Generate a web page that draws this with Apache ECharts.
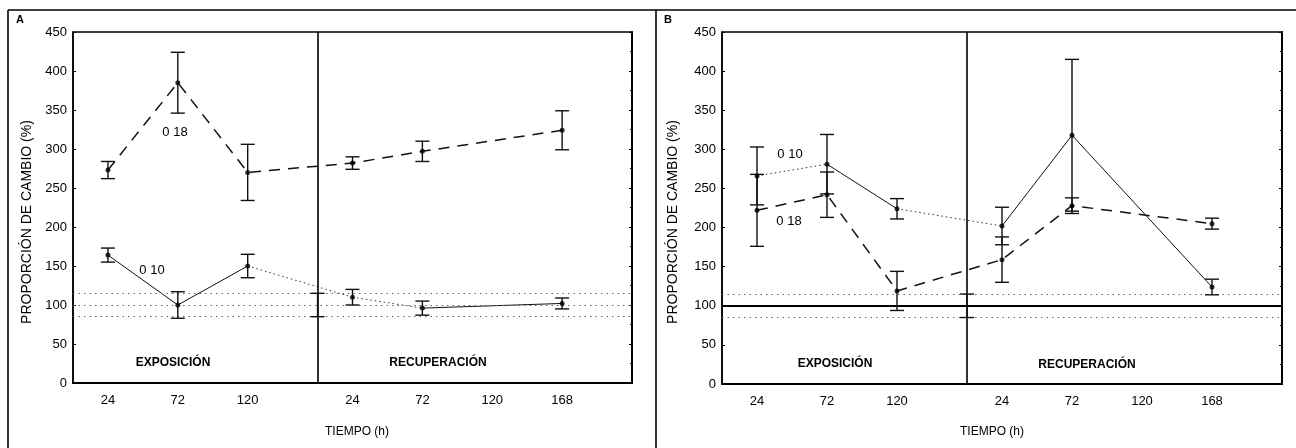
<!DOCTYPE html>
<html><head><meta charset="utf-8">
<script src="https://cdn.jsdelivr.net/npm/echarts@6/dist/echarts.min.js"></script>
<style>html,body{margin:0;padding:0;background:#fff}#c{width:1296px;height:448px}</style>
</head><body><div id="c"></div>
<script>
// ---- data ----
const xLabelPos = [1, 3, 5, 8, 10, 12, 14];           // slot positions of tick labels
const xLabels   = ['24', '72', '120', '24', '72', '120', '168'];
const dataPos   = [1, 3, 5, 8, 10, 14];               // exposure 24,72,120 | recovery 24,72,168
const dividerPos = 7;
const yTickLabels = [0, 50, 100, 150, 200, 250, 300, 350, 400, 450];

// Panel A
const a18    = [273, 385, 270, 282, 297, 324];
const a18err = [11, 39, 36, 8, 13, 25];
const a10    = [164, 100, 150, 110, 96, 102];
const a10err = [9, 17, 15, 10, 9, 7];
// Panel B
const b10    = [266, 281, 224, 202, 318, 124];
const b10err = [37, 38, 13, 24, 97, 10];
const b18    = [222, 242, 119, 159, 228, 205];
const b18err = [46, 29, 25, 29, 10, 7];
// control (100 % ± SE)
const ctrlMean = 100;
const ctrlErr = 15;

// line style of each segment of the 0.10 curve (as seen in the scan)
const segA10 = ['solid', 'solid', 'dotted', 'dotted', 'solid'];
const segB10 = ['dotted', 'solid', 'dotted', 'solid', 'solid'];

const FONT = '"Liberation Sans", Arial, sans-serif';

function pts(v) { return v.map((y, i) => [dataPos[i], y]); }
function errData(v, e) { return v.map((y, i) => [dataPos[i], y, e[i]]); }

function errSeries(gi, data) {
  return {
    type: 'custom', xAxisIndex: gi, yAxisIndex: gi * 2, z: 5, silent: true,
    data: data,
    renderItem(params, api) {
      const x = api.value(0), y = api.value(1), e = api.value(2);
      const t = api.coord([x, y + e]), b = api.coord([x, y - e]);
      const w = 7;
      const st = { stroke: '#111', lineWidth: 1.4 };
      return { type: 'group', children: [
        { type: 'line', shape: { x1: t[0], y1: t[1], x2: b[0], y2: b[1] }, style: st },
        { type: 'line', shape: { x1: t[0] - w, y1: t[1], x2: t[0] + w, y2: t[1] }, style: st },
        { type: 'line', shape: { x1: b[0] - w, y1: b[1], x2: b[0] + w, y2: b[1] }, style: st }
      ]};
    }
  };
}
function lineStyleOf(type) {
  if (type === 'dotted') return { color: '#333', width: 1, type: [1.5, 3] };
  if (type === 'dashed') return { color: '#111', width: 1.5, type: [11, 8] };
  return { color: '#111', width: 1 };
}
function segSeries(gi, v, segs) {
  return segs.map((s, i) => ({
    type: 'line', xAxisIndex: gi, yAxisIndex: gi * 2, symbol: 'none', silent: true, z: 3,
    data: [[dataPos[i], v[i]], [dataPos[i + 1], v[i + 1]]],
    lineStyle: lineStyleOf(s)
  }));
}
function dashedSeries(gi, v) {
  return { type: 'line', xAxisIndex: gi, yAxisIndex: gi * 2, symbol: 'none', silent: true, z: 3,
    data: pts(v), lineStyle: lineStyleOf('dashed') };
}
function dotSeries(gi, v) {
  return { type: 'scatter', xAxisIndex: gi, yAxisIndex: gi * 2, symbol: 'circle', symbolSize: 5, z: 6,
    silent: true, itemStyle: { color: '#000' }, data: pts(v) };
}
function refSeries(gi, solidCenter) {
  const dot = { color: '#666', width: 1, type: [1.5, 4] };
  return { type: 'line', xAxisIndex: gi, yAxisIndex: gi * 2, data: [], silent: true,
    markLine: { symbol: 'none', silent: true, label: { show: false }, animation: false,
      data: [
        { yAxis: ctrlMean + ctrlErr, lineStyle: dot },
        { yAxis: ctrlMean, lineStyle: solidCenter ? { color: '#000', width: 2, type: 'solid' } : dot },
        { yAxis: ctrlMean - ctrlErr, lineStyle: dot },
        { xAxis: dividerPos, lineStyle: { color: '#000', width: 1.6, type: 'solid' } }
      ] } };
}

const grids = [
  { left: 73, right: 664, top: 32, bottom: 65 },
  { left: 722, right: 14, top: 32, bottom: 64 }
];
const xAxes = grids.map((g, i) => ({
  type: 'value', gridIndex: i, min: 0, max: 16, interval: 1,
  axisLine: { lineStyle: { color: '#000', width: 2 } },
  axisTick: { show: false }, splitLine: { show: false },
  axisLabel: { color: '#000', fontFamily: FONT, fontSize: 13, margin: 11,
    formatter: v => { const k = xLabelPos.indexOf(v); return k >= 0 ? xLabels[k] : ''; } }
}));
const yAxes = [];
grids.forEach((g, i) => {
  yAxes.push({ type: 'value', gridIndex: i, min: 0, max: 450, interval: 50, position: 'left',
    axisLine: { show: true, lineStyle: { color: '#000', width: 1.5 } },
    axisTick: { show: true, inside: true, length: 3, lineStyle: { color: '#000' } },
    splitLine: { show: false },
    axisLabel: { color: '#000', fontFamily: FONT, fontSize: 13, margin: 6,
      formatter: v => yTickLabels.includes(v) ? String(v) : '' } });
  yAxes.push({ type: 'value', gridIndex: i, min: 0, max: 450, interval: 50, position: 'right',
    axisLine: { show: true, lineStyle: { color: '#000', width: 2 } },
    axisTick: { show: true, inside: true, length: 3, lineStyle: { color: '#000' } },
    minorTick: { show: true, splitNumber: 2, length: 2, lineStyle: { color: '#000' } },
    splitLine: { show: false }, axisLabel: { show: false } });
});

const series = [
  refSeries(0, false), refSeries(1, true),
  dashedSeries(0, a18), ...segSeries(0, a10, segA10),
  dashedSeries(1, b18), ...segSeries(1, b10, segB10),
  errSeries(0, errData(a18, a18err)), errSeries(0, errData(a10, a10err)),
  errSeries(0, [[dividerPos, ctrlMean, ctrlErr]]),
  errSeries(1, errData(b18, b18err)), errSeries(1, errData(b10, b10err)),
  errSeries(1, [[dividerPos, ctrlMean, ctrlErr]]),
  dotSeries(0, a18), dotSeries(0, a10), dotSeries(1, b18), dotSeries(1, b10)
];

function txt(x, y, s, opt) {
  return Object.assign({ type: 'text', x: x, y: y, silent: true,
    style: Object.assign({ text: s, fill: '#000', font: '13px ' + FONT, align: 'center', verticalAlign: 'middle' }, opt || {}) });
}
function rotTxt(x, y, s) {
  return { type: 'text', x: x, y: y, rotation: Math.PI / 2, silent: true,
    style: { text: s, fill: '#000', font: '14px ' + FONT, align: 'center', verticalAlign: 'middle' } };
}
const lineSt = { stroke: '#000', lineWidth: 1.6 };
const graphic = [
  { type: 'line', shape: { x1: 8, y1: 10, x2: 1296, y2: 10 }, style: lineSt, silent: true },
  { type: 'line', shape: { x1: 8, y1: 10, x2: 8, y2: 448 }, style: lineSt, silent: true },
  { type: 'line', shape: { x1: 656, y1: 10, x2: 656, y2: 448 }, style: lineSt, silent: true },
  txt(20, 20, 'A', { font: 'bold 11px ' + FONT }),
  txt(668, 20, 'B', { font: 'bold 11px ' + FONT }),
  rotTxt(27, 222, 'PROPORCIÓN DE CAMBIO (%)'),
  rotTxt(673, 222, 'PROPORCIÓN DE CAMBIO (%)'),
  txt(357, 432, 'TIEMPO (h)', { font: '12px ' + FONT }),
  txt(992, 432, 'TIEMPO (h)', { font: '12px ' + FONT }),
  txt(173, 363, 'EXPOSICIÓN', { font: 'bold 12px ' + FONT }),
  txt(438, 363, 'RECUPERACIÓN', { font: 'bold 12px ' + FONT }),
  txt(835, 364, 'EXPOSICIÓN', { font: 'bold 12px ' + FONT }),
  txt(1087, 365, 'RECUPERACIÓN', { font: 'bold 12px ' + FONT }),
  txt(175, 132, '0 18'),
  txt(152, 270, '0 10'),
  txt(790, 154, '0 10'),
  txt(789, 221, '0 18')
];

const chart = echarts.init(document.getElementById('c'), null, { renderer: 'canvas' });
chart.setOption({
  animation: false,
  backgroundColor: '#fff',
  grid: grids.map(g => Object.assign({ show: true, borderColor: '#000', borderWidth: 1.5, backgroundColor: 'transparent' }, g)),
  xAxis: xAxes,
  yAxis: yAxes,
  series: series,
  graphic: graphic
});
</script></body></html>
